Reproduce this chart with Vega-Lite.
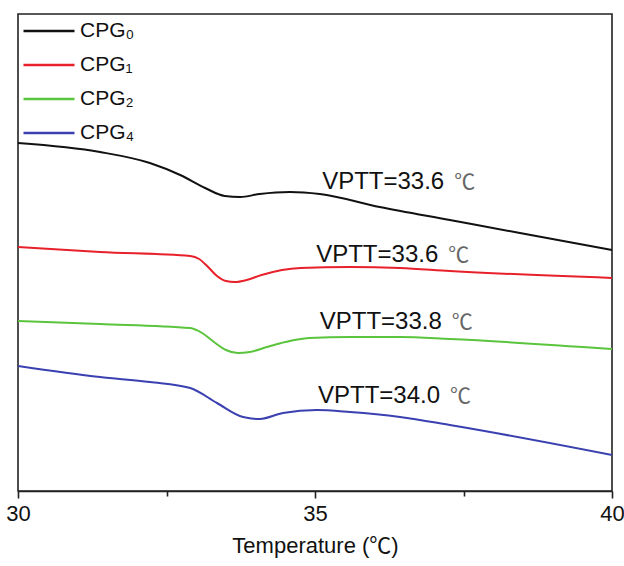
{
  "$schema": "https://vega.github.io/schema/vega-lite/v6.json",
  "width": 594,
  "height": 477,
  "autosize": {"type": "none"},
  "padding": {"left": 18, "top": 14, "right": 12, "bottom": 75},
  "background": "white",
  "config": {
    "font": "Liberation Sans",
    "view": {"stroke": "#222222", "strokeWidth": 1.6}
  },
  "datasets": {
    "curves": [
      {"series": "CPG₀", "T": 30.00, "v": 347},
      {"series": "CPG₀", "T": 31.38, "v": 338},
      {"series": "CPG₀", "T": 32.22, "v": 327},
      {"series": "CPG₀", "T": 32.73, "v": 315},
      {"series": "CPG₀", "T": 33.15, "v": 302},
      {"series": "CPG₀", "T": 33.48, "v": 294},
      {"series": "CPG₀", "T": 33.74, "v": 293},
      {"series": "CPG₀", "T": 34.07, "v": 296},
      {"series": "CPG₀", "T": 34.58, "v": 298},
      {"series": "CPG₀", "T": 35.08, "v": 296},
      {"series": "CPG₀", "T": 36.09, "v": 283},
      {"series": "CPG₀", "T": 37.27, "v": 270},
      {"series": "CPG₀", "T": 38.45, "v": 257},
      {"series": "CPG₀", "T": 40.00, "v": 240},
      {"series": "CPG₁", "T": 30.00, "v": 243},
      {"series": "CPG₁", "T": 31.38, "v": 238},
      {"series": "CPG₁", "T": 32.90, "v": 234},
      {"series": "CPG₁", "T": 33.05, "v": 231},
      {"series": "CPG₁", "T": 33.20, "v": 223},
      {"series": "CPG₁", "T": 33.35, "v": 214},
      {"series": "CPG₁", "T": 33.50, "v": 209},
      {"series": "CPG₁", "T": 33.65, "v": 208},
      {"series": "CPG₁", "T": 33.85, "v": 210},
      {"series": "CPG₁", "T": 34.10, "v": 215},
      {"series": "CPG₁", "T": 34.75, "v": 222},
      {"series": "CPG₁", "T": 35.59, "v": 223},
      {"series": "CPG₁", "T": 36.43, "v": 222},
      {"series": "CPG₁", "T": 37.27, "v": 219},
      {"series": "CPG₁", "T": 40.00, "v": 212},
      {"series": "CPG₂", "T": 30.00, "v": 169},
      {"series": "CPG₂", "T": 31.38, "v": 166},
      {"series": "CPG₂", "T": 32.90, "v": 162},
      {"series": "CPG₂", "T": 33.10, "v": 157},
      {"series": "CPG₂", "T": 33.30, "v": 148},
      {"series": "CPG₂", "T": 33.50, "v": 140},
      {"series": "CPG₂", "T": 33.70, "v": 137},
      {"series": "CPG₂", "T": 33.90, "v": 138},
      {"series": "CPG₂", "T": 34.19, "v": 143},
      {"series": "CPG₂", "T": 34.50, "v": 148},
      {"series": "CPG₂", "T": 34.90, "v": 152},
      {"series": "CPG₂", "T": 35.59, "v": 153},
      {"series": "CPG₂", "T": 36.43, "v": 153},
      {"series": "CPG₂", "T": 37.27, "v": 151},
      {"series": "CPG₂", "T": 40.00, "v": 141},
      {"series": "CPG₄", "T": 30.00, "v": 124},
      {"series": "CPG₄", "T": 31.38, "v": 113},
      {"series": "CPG₄", "T": 32.22, "v": 108},
      {"series": "CPG₄", "T": 32.90, "v": 102},
      {"series": "CPG₄", "T": 33.35, "v": 87},
      {"series": "CPG₄", "T": 33.79, "v": 73},
      {"series": "CPG₄", "T": 34.07, "v": 71},
      {"series": "CPG₄", "T": 34.46, "v": 77},
      {"series": "CPG₄", "T": 35.03, "v": 80},
      {"series": "CPG₄", "T": 35.59, "v": 78},
      {"series": "CPG₄", "T": 36.43, "v": 73},
      {"series": "CPG₄", "T": 37.27, "v": 65},
      {"series": "CPG₄", "T": 40.00, "v": 35}
    ],
    "notes": [
      {"T": 35.12, "v": 301, "label": "VPTT=33.6"},
      {"T": 35.02, "v": 228, "label": "VPTT=33.6"},
      {"T": 35.08, "v": 161, "label": "VPTT=33.8"},
      {"T": 35.05, "v": 87, "label": "VPTT=34.0"}
    ]
  },
  "layer": [
    {
      "data": {"name": "curves"},
      "mark": {"type": "line", "interpolate": "monotone", "strokeWidth": 2},
      "encoding": {
        "x": {
          "field": "T", "type": "quantitative",
          "scale": {"domain": [30, 40], "nice": false, "zero": false},
          "axis": {
            "title": "Temperature (℃)",
            "values": [30, 32.5, 35, 37.5, 40],
            "labelExpr": "datum.value % 5 === 0 ? format(datum.value, 'd') : ''",
            "grid": false,
            "domainColor": "#222222", "domainWidth": 1.6,
            "tickColor": "#222222", "tickWidth": 1.6,
            "tickSize": {"condition": {"test": "datum.value % 5 === 0", "value": 7}, "value": 5},
            "labelFontSize": 22, "labelColor": "#111111", "labelPadding": 5,
            "labelFont": "Liberation Sans",
            "titleFontSize": 22, "titleFont": "Liberation Sans, Noto Sans CJK SC", "titleFontWeight": "normal",
            "titleColor": "#111111", "titlePadding": 11,
            "labelFlush": false
          }
        },
        "y": {
          "field": "v", "type": "quantitative",
          "scale": {"domain": [-1, 476], "nice": false, "zero": false},
          "axis": null
        },
        "color": {
          "field": "series", "type": "nominal",
          "scale": {
            "domain": ["CPG₀", "CPG₁", "CPG₂", "CPG₄"],
            "range": ["#111111", "#e8202a", "#5ac43c", "#3a40b0"]
          },
          "legend": {
            "title": null,
            "orient": "none",
            "legendX": 4,
            "legendY": 7,
            "symbolType": "stroke",
            "symbolSize": 2601,
            "symbolStrokeWidth": 2.5,
            "clipHeight": 20,
            "labelFontSize": 21,
            "labelFont": "Liberation Sans",
            "labelColor": "#111111",
            "labelOffset": 4,
            "rowPadding": 13
          }
        }
      }
    },
    {
      "data": {"name": "notes"},
      "mark": {"type": "text", "align": "left", "baseline": "alphabetic", "fontSize": 24, "font": "Liberation Sans", "color": "#111111"},
      "encoding": {
        "x": {"field": "T", "type": "quantitative"},
        "y": {"field": "v", "type": "quantitative"},
        "text": {"field": "label"}
      }
    },
    {
      "data": {"name": "notes"},
      "mark": {"type": "text", "align": "left", "baseline": "alphabetic", "fontSize": 21, "font": "Noto Sans CJK SC", "color": "#666666", "dx": 132},
      "encoding": {
        "x": {"field": "T", "type": "quantitative"},
        "y": {"field": "v", "type": "quantitative"},
        "text": {"value": "℃"}
      }
    }
  ]
}
